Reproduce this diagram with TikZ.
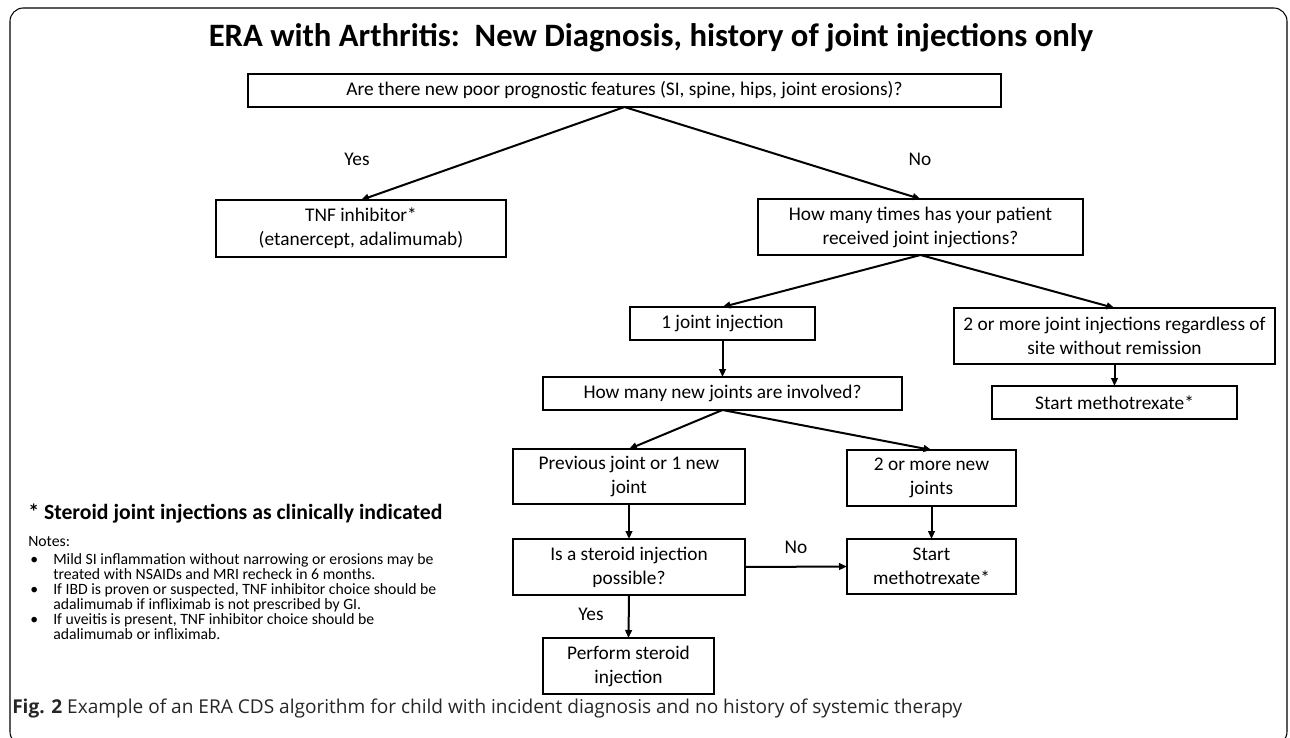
\documentclass[tikz,border=0pt]{standalone}
\usepackage{fontspec}
\setmainfont{Carlito}
\newfontfamily\capfont{Open Sans}
\usetikzlibrary{arrows.meta}

\begin{document}
\begin{tikzpicture}[x=0.75pt,y=-0.75pt,>={Triangle[length=6pt,width=5pt]},
box/.style={draw,line width=0.8pt,inner sep=0pt,outer sep=0pt,align=center,font=\fontsize{14.5}{18}\selectfont},
flow/.style={->,line width=1.5pt},
lbl/.style={font=\fontsize{14.5}{18}\selectfont},
note/.style={anchor=base west,inner sep=0pt,font=\fontsize{11.8}{12}\selectfont}]
\useasboundingbox (0,0) rectangle (1290,738);
\draw[line width=0.8pt,rounded corners=10pt] (10,8) rectangle (1287,745);
\node[anchor=base,font=\fontsize{24.5}{29}\selectfont\bfseries] (title) at (651,47)
  {ERA with Arthritis:\ \ New Diagnosis, history of joint injections only};
% question boxes
\node[box,minimum width=564.75pt,minimum height=24.75pt] (prog) at (624.5,90.5)
  {Are there new poor prognostic features (SI, spine, hips, joint erosions)?};
\node[box,minimum width=217.5pt,minimum height=42.75pt] (tnf) at (361,228.5)
  {TNF inhibitor*\\(etanercept, adalimumab)};
\node[box,minimum width=243.75pt,minimum height=42pt] (times) at (920.5,227)
  {How many times has your patient\\received joint injections?};
\node[box,minimum width=138.75pt,minimum height=24.75pt] (one) at (722.5,323.5)
  {1 joint injection};
\node[box,minimum width=240.75pt,minimum height=42pt] (two) at (1114.5,336)
  {2 or more joint injections regardless of\\site without remission};
\node[box,minimum width=183.75pt,minimum height=24.75pt] (mtxa) at (1114.5,402.5)
  {Start methotrexate*};
\node[box,minimum width=269.25pt,minimum height=24.75pt] (newj) at (722.5,393.5)
  {How many new joints are involved?};
\node[box,minimum width=174pt,minimum height=41.25pt] (prev) at (629,476.5)
  {Previous joint or 1 new\\joint};
\node[box,minimum width=126.75pt,minimum height=42pt] (more) at (931.5,478)
  {2 or more new\\joints};
\node[box,minimum width=174pt,minimum height=42pt] (inj) at (629,567)
  {Is a steroid injection\\possible?};
\node[box,minimum width=126.75pt,minimum height=41.25pt] (mtxb) at (931.5,566.5)
  {Start\\methotrexate*};
\node[box,minimum width=128.25pt,minimum height=42pt] (perf) at (628.5,666)
  {Perform steroid\\injection};
% connectors
\draw[flow] (prog.south) -- (tnf.north);
\draw[flow] (prog.south) -- (times.north);
\draw[flow] (times.south) -- (one.north);
\draw[flow] (times.south) -- (two.north);
\draw[flow] (two.south) -- (mtxa.north);
\draw[flow] (one.south) -- (newj.north);
\draw[flow] (newj.south) -- (prev.north);
\draw[flow] (newj.south) -- (more.north);
\draw[flow] (prev.south) -- (inj.north);
\draw[flow] (more.south) -- (mtxb.north);
\draw[flow] (inj.east) -- (mtxb.west);
\draw[flow] (inj.south) -- (perf.north);
\node[lbl] (yes1) at (357,159) {Yes};
\node[lbl] (no1) at (920,159) {No};
\node[lbl] (no2) at (796,547) {No};
\node[lbl] (yes2) at (591,614) {Yes};
% footnote and notes
\node[anchor=base west,inner sep=0pt,font=\fontsize{16.3}{19}\selectfont\bfseries] (star) at (28,519)
  {* Steroid joint injections as clinically indicated};
\path (28,546) node[note] (n0) {Notes:}
  (30,564) node[note] (b1) {\textbullet}
  (53,564) node[note] (n1) {Mild SI inflammation without narrowing or erosions may be}
  (53,579) node[note] (n2) {treated with NSAIDs and MRI recheck in 6 months.}
  (30,594) node[note] (b2) {\textbullet}
  (53,594) node[note] (n3) {If IBD is proven or suspected, TNF inhibitor choice should be}
  (53,609) node[note] (n4) {adalimumab if infliximab is not prescribed by GI.}
  (30,624) node[note] (b3) {\textbullet}
  (53,624) node[note] (n5) {If uveitis is present, TNF inhibitor choice should be}
  (53,639) node[note] (n6) {adalimumab or infliximab.};
% caption
\node[anchor=base west,inner sep=0pt,font=\capfont\fontsize{14.3}{17}\selectfont,text=black!85] (cap) at (12,713)
  {\textbf{Fig. 2} Example of an ERA CDS algorithm for child with incident diagnosis and no history of systemic therapy};
\end{tikzpicture}
\end{document}
